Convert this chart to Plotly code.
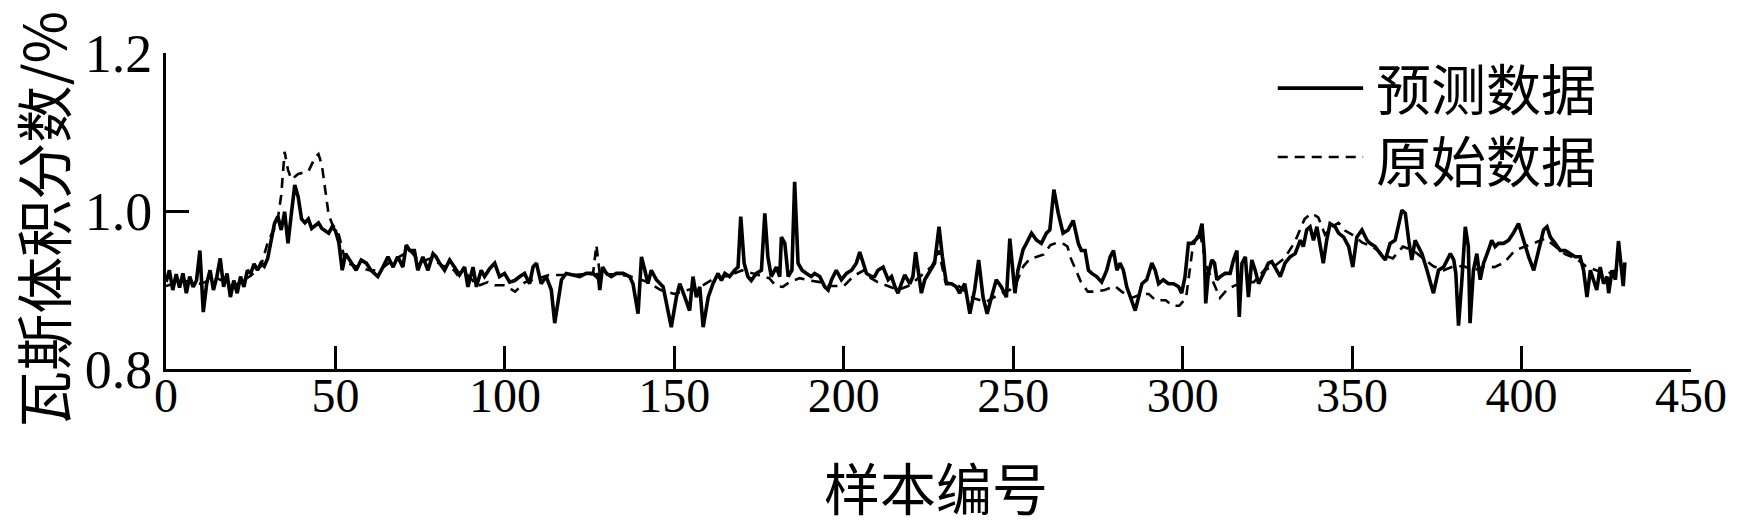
import plotly.graph_objects as go

# ---------------- data ----------------
pred_x = [0, 1, 2, 3, 4, 5, 6, 7, 8, 9, 10, 11, 12, 13, 14, 15, 16, 17, 18, 19, 20, 21, 22, 23, 24, 25, 26, 27, 28, 29,
          30, 31, 32, 33, 34, 35, 36, 37, 38, 39, 40, 41, 42, 43, 44, 45, 46, 47, 48, 49, 50, 51, 52, 53,
          54.6, 56.1, 57.6, 59.1, 60.5, 62.5, 64, 65.5, 67, 68.4, 69.9, 70.9, 71.9, 73.3, 74.3, 75.8, 77.3, 78.8, 79.7,
          80.7, 82.2, 83.7, 85.1, 86.6, 88.1, 89.1, 90.6, 91.6, 93.0, 94.0, 95.5, 97, 98.4, 99.9, 101.4, 102.9, 104.4,
          105.8, 107.3,
          108.3, 109.3, 110.7, 112.2, 113.7, 114.7, 115.7, 116.7, 118.1, 120.1, 122.1, 124.0, 126.0, 127.0, 127.5,
          128.0, 128.8, 130.0, 131.4, 132.9, 134.9, 136.8, 137.8, 139.3, 140.3, 141.3, 142.2, 143.2, 144.7, 146.7,
          147.7, 149.1, 150.6, 151.6, 153.1, 154.5, 155.5, 156.5, 157.5, 158.5, 160.0, 161.4,
          162.9, 163.9, 164.9, 166.3, 167.8, 168.8, 169.6, 170.6, 171.7, 172.7, 174.2, 175.7, 176.7, 177.6, 178.6,
          180.1, 181.1, 181.6, 182.6, 183.6, 184.7, 185.5, 186.5, 187.7, 189.0, 190.4, 191.4, 192.9, 194.4, 195.4,
          196.4, 197.8, 199.3, 200.8, 202.3, 203.7, 204.7, 205.7, 206.7, 208.2, 209.1, 210.1, 211.6, 213.1, 214.1,
          215.1, 216.0, 217.0,
          218.0, 219.5, 220.4, 221.2, 221.9, 222.9, 223.9, 225.4, 226.8, 228.1, 229.1, 230.3, 231.8, 233.2, 234.2,
          235.7, 237.2, 238.6, 239.8, 241.1, 242.3, 243.6, 245.0, 246.5, 248.0, 249.0, 250.5, 251.4, 252.9, 253.9,
          255.4, 256.9, 258.3, 259.8, 260.8, 262.0, 263.3, 264.7, 266.2, 267.7, 269.2, 270.1, 271.2,
          272.2, 273.2, 274.6, 276.1, 277.6, 278.6, 279.6, 280.6, 281.5, 282.5, 283.5, 285, 286, 287, 288, 289.4,
          290.9, 291.9, 292.9, 294.3, 295.8, 297.3, 298.8, 299.7, 300.7, 301.7, 302.7, 303.7, 304.7, 305.7, 306.4,
          306.8, 307.6, 308.6, 309.4, 310.1, 311.1, 312.5, 314.0, 315.0, 316.0, 316.7, 317.5, 318.5, 319.4, 320.4,
          321.4, 322.4, 323.4, 324.4, 325.3,
          326.3, 327.3, 328.8, 330.2, 331.7, 333.2, 334.7, 335.6, 336.6, 337.6, 338.6, 339.6, 340.6, 341.5, 342.5,
          343.5, 345.0, 346.0, 347.5, 349.0, 350.2, 351.4, 352.9, 354.4, 355.3, 356.8, 358.3, 359.8, 361.2, 362.7,
          364.7, 365.7, 366.7, 367.6, 368.6, 369.6, 370.6, 372.1, 373.1, 374.0, 375.5, 377.0, 379.0, 380.0,
          380.6, 381.4, 382.4, 383.4, 384.3, 384.8, 385.8, 386.8, 387.8, 388.8, 390.2, 391.2, 392.2, 393.2, 394.7,
          396.2, 397.6, 399.1, 400.6, 402.1, 403.6, 405.0, 406.5, 407.5, 408.5, 409.9, 411.4, 412.9, 414.4, 415.8,
          417.3, 418.3, 419.3, 420.3, 421.2, 422.2, 423.2, 424.2, 425.2, 425.7, 426.7, 427.7, 428.6, 429.6, 430.0,
          430.5]
pred_y = [0.910, 0.925, 0.900, 0.920, 0.903, 0.921, 0.896, 0.917, 0.904, 0.912, 0.950, 0.872, 0.908, 0.925, 0.900,
          0.917, 0.940, 0.904, 0.921, 0.891, 0.912, 0.896, 0.917, 0.904, 0.925, 0.921, 0.933, 0.925, 0.934, 0.930,
          0.940, 0.963, 0.984, 0.993, 0.976, 0.999, 0.959, 0.997, 1.033, 1.018, 0.990, 0.985, 0.990, 0.978, 0.982,
          0.985, 0.978, 0.975, 0.972, 0.980, 0.975, 0.960, 0.925, 0.946,
          0.934, 0.925, 0.938, 0.934, 0.925, 0.917, 0.929, 0.942, 0.929, 0.942, 0.929, 0.957, 0.950, 0.950, 0.925,
          0.942, 0.925, 0.946, 0.942, 0.934, 0.925, 0.938, 0.929, 0.919, 0.929, 0.904, 0.929, 0.904, 0.925, 0.917,
          0.927, 0.934, 0.917, 0.921, 0.910, 0.912, 0.917, 0.921, 0.908,
          0.929, 0.934, 0.908, 0.917, 0.900, 0.858, 0.883, 0.913, 0.921, 0.919, 0.917, 0.921, 0.921, 0.917, 0.921,
          0.900, 0.929, 0.921, 0.917, 0.921, 0.921, 0.917, 0.908, 0.870, 0.942, 0.925, 0.908, 0.925, 0.913, 0.904,
          0.883, 0.853, 0.891, 0.908, 0.891, 0.874, 0.917, 0.891, 0.904, 0.853, 0.891, 0.908,
          0.921, 0.912, 0.921, 0.917, 0.925, 0.929, 0.993, 0.934, 0.917, 0.912, 0.921, 0.925, 0.997, 0.942, 0.917,
          0.929, 0.917, 0.967, 0.959, 0.917, 0.925, 1.037, 0.934, 0.925, 0.921, 0.917, 0.921, 0.917, 0.904, 0.900,
          0.913, 0.925, 0.913, 0.921, 0.925, 0.934, 0.948, 0.934, 0.921, 0.917, 0.917, 0.925, 0.929, 0.913, 0.917,
          0.904, 0.896, 0.908,
          0.919, 0.908, 0.917, 0.948, 0.929, 0.896, 0.913, 0.925, 0.934, 0.980, 0.942, 0.908, 0.908, 0.904, 0.896,
          0.908, 0.870, 0.900, 0.938, 0.891, 0.870, 0.891, 0.913, 0.904, 0.891, 0.965, 0.896, 0.925, 0.951, 0.959,
          0.972, 0.963, 0.959, 0.972, 0.976, 1.027, 0.997, 0.972, 0.976, 0.988, 0.959, 0.950, 0.950,
          0.925, 0.921, 0.917, 0.910, 0.925, 0.942, 0.950, 0.925, 0.934, 0.925, 0.904, 0.887, 0.874, 0.891, 0.908,
          0.913, 0.934, 0.925, 0.908, 0.913, 0.908, 0.908, 0.904, 0.896, 0.917, 0.959, 0.959, 0.963, 0.967, 0.984,
          0.946, 0.883, 0.921, 0.938, 0.934, 0.913, 0.917, 0.921, 0.921, 0.938, 0.950, 0.866, 0.934, 0.942, 0.891,
          0.938, 0.925, 0.908, 0.917, 0.925, 0.934,
          0.936, 0.929, 0.917, 0.934, 0.942, 0.946, 0.963, 0.955, 0.976, 0.980, 0.963, 0.980, 0.955, 0.934, 0.963,
          0.984, 0.980, 0.972, 0.967, 0.955, 0.929, 0.967, 0.976, 0.963, 0.959, 0.955, 0.946, 0.938, 0.959, 0.963,
          1.001, 0.997, 0.963, 0.938, 0.963, 0.955, 0.946, 0.925, 0.908, 0.896, 0.925, 0.929, 0.946, 0.938,
          0.921, 0.855, 0.913, 0.980, 0.955, 0.858, 0.925, 0.946, 0.913, 0.934, 0.950, 0.963, 0.955, 0.959, 0.959,
          0.963, 0.972, 0.984, 0.963, 0.942, 0.925, 0.950, 0.976, 0.980, 0.967, 0.959, 0.950, 0.950, 0.946, 0.942,
          0.942, 0.925, 0.891, 0.925, 0.913, 0.900, 0.929, 0.908, 0.917, 0.896, 0.925, 0.913, 0.962, 0.925, 0.905,
          0.935]

orig_x = [0, 5, 10, 15, 20, 25, 28, 30, 32, 33, 34, 35, 36, 37, 39, 42, 44, 45, 46, 47, 48, 49, 51, 53, 56, 60,
          63, 66, 70, 72, 75, 78, 82, 85, 86, 89, 92, 95, 97, 100, 103, 106, 110, 113, 117, 120, 124, 126, 127, 128,
          132, 136, 139, 142, 146, 150, 154, 158, 162, 166, 170, 174, 178, 180, 182, 184, 187, 190, 193, 196, 200,
          203, 206, 208, 210, 213, 216, 219, 222, 226, 228, 230, 234, 238, 242, 246, 249, 251, 253, 255, 257, 259,
          261, 263, 265, 266, 267, 268, 270, 272, 274, 277, 280, 282, 285, 288, 290, 292, 295, 297, 299, 301, 303,
          305, 307, 309, 311, 313, 315, 318, 321, 324, 327, 330, 333, 336, 338, 340, 342, 344, 346, 348, 350, 353,
          356, 359, 362, 365, 368, 371, 374, 377, 380, 383, 386, 389, 392, 395, 398, 401, 404, 407, 410, 413, 416,
          419, 422, 425, 428, 430]
orig_y = [0.905, 0.912, 0.908, 0.915, 0.905, 0.918, 0.930, 0.960, 0.978, 0.990, 1.020, 1.075, 1.052, 1.040, 1.047,
          1.050, 1.068, 1.072, 1.058, 1.026, 0.995, 0.984, 0.970, 0.935, 0.930, 0.925, 0.925, 0.935, 0.945, 0.950,
          0.935, 0.940, 0.930, 0.925, 0.919, 0.919, 0.905, 0.910, 0.906, 0.906, 0.898, 0.910, 0.915, 0.919, 0.919,
          0.919, 0.920, 0.920, 0.957, 0.920, 0.920, 0.918, 0.915, 0.910, 0.900, 0.895, 0.900, 0.905, 0.915, 0.918,
          0.925, 0.920, 0.915, 0.905, 0.904, 0.910, 0.915, 0.912, 0.910, 0.905, 0.905, 0.918, 0.925, 0.915, 0.910,
          0.905, 0.900, 0.905, 0.915, 0.930, 0.950, 0.910, 0.905, 0.890, 0.885, 0.895, 0.900, 0.910, 0.930, 0.940,
          0.942, 0.945, 0.957, 0.960, 0.958, 0.955, 0.940, 0.930, 0.910, 0.898, 0.898, 0.900, 0.905, 0.898, 0.890,
          0.895, 0.895, 0.887, 0.887, 0.880, 0.880, 0.890, 0.955, 0.975, 0.930, 0.910, 0.890, 0.900, 0.905, 0.910,
          0.910, 0.925, 0.930, 0.940, 0.960, 0.990, 0.997, 0.992, 0.970, 0.980, 0.985, 0.975, 0.970, 0.960, 0.955,
          0.945, 0.940, 0.955, 0.950, 0.940, 0.930, 0.925, 0.930, 0.930, 0.925, 0.930, 0.929, 0.935, 0.950, 0.955,
          0.960, 0.965, 0.955, 0.945, 0.940, 0.930, 0.925, 0.920, 0.925, 0.930]

x_ticks = [0, 50, 100, 150, 200, 250, 300, 350, 400, 450]
y_ticks = [0.8, 1.0, 1.2]
y_tick_text = ["0.8", "1.0", "1.2"]
series_names = ["预测数据", "原始数据"]
x_title = "样本编号"
y_title = "瓦斯体积分数/%"

FONT = "Liberation Serif, Times New Roman, Noto Sans CJK SC, serif"
CJK = "Noto Sans CJK SC, Liberation Serif, serif"

fig = go.Figure()
fig.add_trace(go.Scatter(x=orig_x, y=orig_y, mode="lines", name=series_names[1],
                         line=dict(color="black", width=2.6, dash="10px,7px"), showlegend=False))
fig.add_trace(go.Scatter(x=pred_x, y=pred_y, mode="lines", name=series_names[0],
                         line=dict(color="black", width=3.6), showlegend=False))

axis_common = dict(showline=True, linecolor="black", linewidth=3, ticks="inside", ticklen=23,
                   tickwidth=3, tickcolor="black", showgrid=False, zeroline=False)
fig.update_xaxes(range=[0, 450], tickvals=x_ticks, ticktext=[str(v) for v in x_ticks],
                 tickfont=dict(family=FONT, size=48, color="black"), ticklabelstandoff=-18, **axis_common)
fig.update_yaxes(range=[0.8, 1.2], tickvals=y_ticks, ticktext=y_tick_text,
                 tickfont=dict(family=FONT, size=54, color="black"), **axis_common)

# manual legend: key lines + one two-line label block
legend_rows = [(0.889, "solid", 3.6), (0.671, "10px,7px", 2.6)]
for py, dash, w in legend_rows:
    fig.add_shape(type="line", xref="paper", yref="paper", x0=0.729, x1=0.785, y0=py, y1=py,
                  line=dict(color="black", width=w, dash=dash))
fig.add_annotation(xref="paper", yref="paper", x=0.792, y=0.782, text="<br>".join(series_names),
                   showarrow=False, xanchor="left", yanchor="middle", align="left",
                   font=dict(family=CJK, size=55, color="black"))

# axis titles
fig.add_annotation(xref="paper", yref="paper", x=0.505, y=-0.37, text=x_title, showarrow=False,
                   xanchor="center", yanchor="middle", font=dict(family=CJK, size=56, color="black"))
fig.add_annotation(xref="paper", yref="paper", x=-0.082, y=0.475, text=y_title, showarrow=False, textangle=-90,
                   xanchor="center", yanchor="middle", height=66,
                   font=dict(family=CJK, size=57, color="black"))

fig.update_layout(width=1742, height=528, paper_bgcolor="white", plot_bgcolor="white",
                  margin=dict(l=166, r=51, t=53, b=159, autoexpand=False), showlegend=False)

fig.write_html("out.html", config={"displayModeBar": False},
               post_script="document.body.style.margin='0';")
